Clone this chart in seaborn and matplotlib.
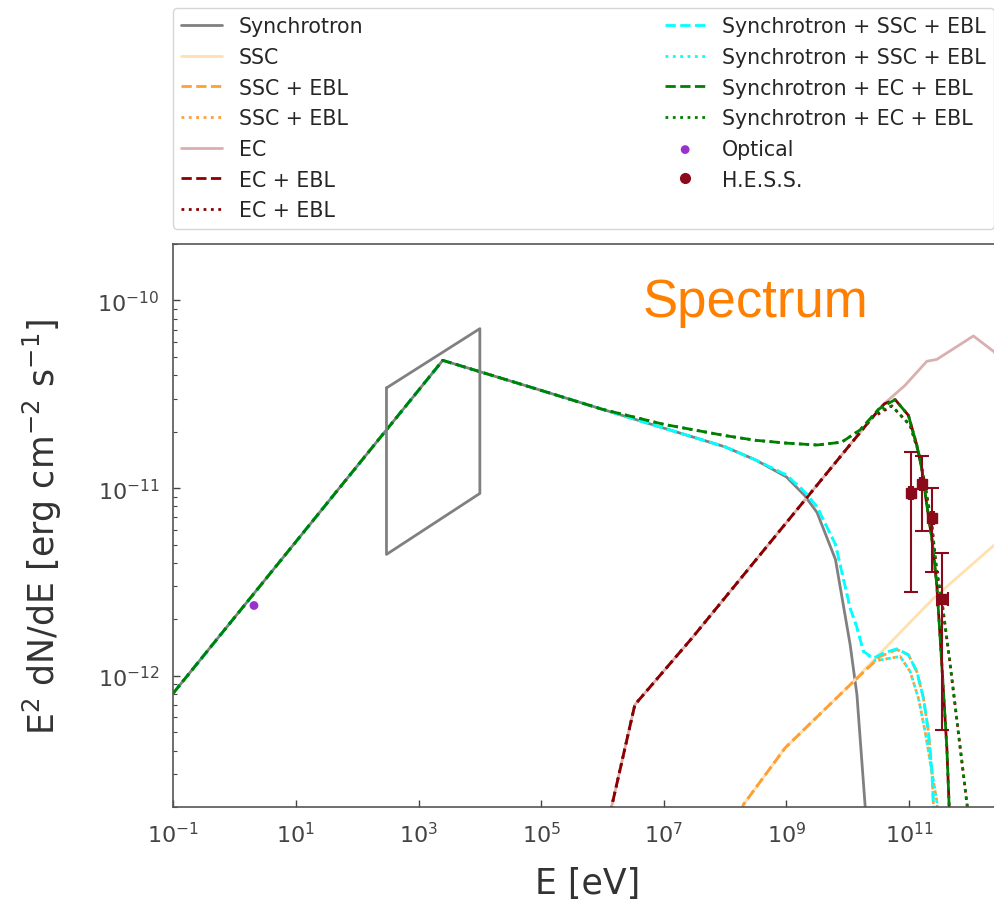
import numpy as np
import pandas as pd
import matplotlib
matplotlib.use("Agg")
import matplotlib.pyplot as plt
from matplotlib.lines import Line2D
import seaborn as sns

# ---------------------------------------------------------------
# SED model curves, stored as log10(E / eV) and log10(E^2 dN/dE)
# ---------------------------------------------------------------
sync_logE = [-1.0, 3.395, 4.82, 6.0, 7.0, 7.5, 8.0, 8.5, 9.0, 9.3, 9.5, 9.8, 10.04, 10.15, 10.284, 10.4]
sync_logF = [-12.092, -10.319, -10.461, -10.58, -10.68, -10.73, -10.78, -10.85, -10.94, -11.04, -11.13,
             -11.38, -11.835, -12.1, -12.693, -13.4]

ssc_logE = [8.2, 8.299, 8.979, 10.039, 10.557, 11.398, 12.39, 12.7]
ssc_logF = [-12.8, -12.686, -12.384, -12.048, -11.87, -11.587, -11.303, -11.22]

ssc_ebl_a_logE = [8.2, 8.299, 8.979, 10.039, 10.528, 10.801, 10.99, 11.127, 11.235, 11.316, 11.372, 11.398, 11.45]
ssc_ebl_a_logF = [-12.8, -12.686, -12.384, -12.048, -11.897, -11.86, -11.888, -11.977, -12.119, -12.296,
                  -12.509, -12.686, -13.0]

ssc_ebl_b_logE = [8.2, 8.299, 8.979, 10.039, 10.45, 10.691, 10.855, 11.018, 11.153, 11.262, 11.372, 11.453, 11.5]
ssc_ebl_b_logF = [-12.8, -12.686, -12.384, -12.048, -11.92, -11.906, -11.897, -11.977, -12.119, -12.296,
                  -12.509, -12.668, -12.9]

ec_logE = [6.0, 6.152, 6.528, 7.457, 10.557, 10.935, 11.29, 11.453, 12.05, 12.39, 12.7]
ec_logF = [-12.9, -12.693, -12.154, -11.8, -10.561, -10.452, -10.324, -10.314, -10.189, -10.274, -10.45]

ec_ebl_a_logE = [6.0, 6.152, 6.528, 7.457, 10.4, 10.6, 10.773, 10.99, 11.127, 11.208, 11.29, 11.372,
                 11.453, 11.535, 11.617, 11.654, 11.7]
ec_ebl_a_logF = [-12.9, -12.693, -12.154, -11.8, -10.624, -10.55, -10.528, -10.612, -10.771, -10.895,
                 -11.09, -11.268, -11.516, -11.941, -12.385, -12.693, -13.0]

ec_ebl_b_logE = [6.0, 6.152, 6.528, 7.457, 10.4, 10.72, 11.018, 11.153, 11.262, 11.372, 11.453, 11.535,
                 11.672, 11.835, 11.953, 12.0]
ec_ebl_b_logF = [-12.9, -12.693, -12.154, -11.8, -10.624, -10.562, -10.665, -10.806, -10.984, -11.197,
                 -11.445, -11.6, -11.941, -12.385, -12.704, -12.9]

sync_ssc_a_logE = [-1.0, 3.395, 4.82, 6.0, 7.0, 7.5, 8.0, 8.5, 9.0, 9.3, 9.5, 9.8, 10.04, 10.148, 10.256,
                   10.419, 10.582, 10.801, 10.99, 11.127, 11.235, 11.316, 11.372, 11.398, 11.45]
sync_ssc_a_logF = [-12.092, -10.319, -10.461, -10.58, -10.68, -10.73, -10.78, -10.85, -10.93, -11.02,
                   -11.1, -11.3, -11.64, -11.74, -11.87, -11.906, -11.879, -11.856, -11.888, -11.977,
                   -12.119, -12.296, -12.509, -12.686, -13.0]

sync_ssc_b_logE = [-1.0, 3.395, 4.82, 6.0, 7.0, 7.5, 8.0, 8.5, 9.0, 9.3, 9.5, 9.8, 10.04, 10.148, 10.256,
                   10.45, 10.691, 10.855, 11.018, 11.153, 11.262, 11.372, 11.453, 11.5]
sync_ssc_b_logF = [-12.092, -10.319, -10.461, -10.58, -10.68, -10.73, -10.78, -10.85, -10.93, -11.02,
                   -11.1, -11.3, -11.64, -11.74, -11.87, -11.92, -11.906, -11.897, -11.977, -12.119,
                   -12.296, -12.509, -12.668, -12.9]

sync_ec_a_logE = [-1.0, 3.395, 4.82, 6.0, 7.0, 7.5, 8.0, 8.5, 9.0, 9.5, 9.9, 10.2, 10.5, 10.773, 10.99,
                  11.127, 11.208, 11.29, 11.372, 11.453, 11.535, 11.617, 11.654, 11.7]
sync_ec_a_logF = [-12.092, -10.319, -10.461, -10.58, -10.66, -10.69, -10.72, -10.745, -10.76, -10.77,
                  -10.755, -10.69, -10.58, -10.528, -10.612, -10.771, -10.895, -11.09, -11.268, -11.516,
                  -11.941, -12.385, -12.693, -13.0]

sync_ec_b_logE = [-1.0, 3.395, 4.82, 6.0, 7.0, 7.5, 8.0, 8.5, 9.0, 9.5, 9.9, 10.2, 10.5, 10.72, 11.018,
                  11.153, 11.262, 11.372, 11.453, 11.535, 11.672, 11.835, 11.953, 12.0]
sync_ec_b_logF = [-12.092, -10.319, -10.461, -10.58, -10.66, -10.69, -10.72, -10.745, -10.76, -10.77,
                  -10.755, -10.69, -10.59, -10.562, -10.665, -10.806, -10.984, -11.197, -11.445, -11.6,
                  -11.941, -12.385, -12.704, -12.9]

# X-ray butterfly (0.3-10 keV), closed polygon
xray_logE = [2.477, 4.0, 4.0, 2.477, 2.477]
xray_logF = [-10.466, -10.15, -11.028, -11.353, -10.466]

# Optical point
opt_E = [2.07]
opt_F = [2.37e-12]

# H.E.S.S. points
hess_E = [1.08e11, 1.62e11, 2.38e11, 3.51e11]
hess_F = [9.38e-12, 1.05e-11, 6.9e-12, 2.56e-12]
hess_F_hi = [1.56e-11, 1.48e-11, 1.0e-11, 4.5e-12]
hess_F_lo = [2.78e-12, 5.9e-12, 3.59e-12, 5.16e-13]
hess_E_lo = [1.0e11, 1.52e11, 2.25e11, 2.84e11]
hess_E_hi = [1.17e11, 1.73e11, 2.52e11, 4.4e11]

# ---------------------------------------------------------------
sns.set_style("ticks")
plt.rcParams["font.family"] = ["DejaVu Sans"]
plt.rcParams["mathtext.fontset"] = "dejavusans"

fig = plt.figure(figsize=(9.94, 9.04), dpi=100)
W, H = 994.0, 904.0
ax_left, ax_right, ax_top, ax_bottom = 173.3, 1001.0, 245.0, 808.0
ax = fig.add_axes([ax_left / W, 1 - ax_bottom / H, (ax_right - ax_left) / W, (ax_bottom - ax_top) / H])
ax.set_xscale("log")
ax.set_yscale("log")


def curve(logE, logF, color, ls, label, lw=2.0):
    df = pd.DataFrame({"E": np.power(10.0, logE), "F": np.power(10.0, logF)})
    sns.lineplot(data=df, x="E", y="F", ax=ax, color=color, linestyle=ls, lw=lw,
                 estimator=None, sort=False, label=label)


c_sync = "#808080"
c_ssc = "#FFE0B0"
c_ssc_ebl = "#FFA033"
c_ec = "#DAAFAF"
c_ec_ebl = "#8B0000"
c_cyan = "#00FFFF"
c_green = "#008000"

curve(sync_logE, sync_logF, c_sync, "-", "Synchrotron")
curve(ssc_logE, ssc_logF, c_ssc, "-", "SSC")
curve(ssc_ebl_a_logE, ssc_ebl_a_logF, c_ssc_ebl, "--", "SSC + EBL")
curve(ssc_ebl_b_logE, ssc_ebl_b_logF, c_ssc_ebl, ":", "SSC + EBL")
curve(ec_logE, ec_logF, c_ec, "-", "EC")
curve(ec_ebl_a_logE, ec_ebl_a_logF, c_ec_ebl, "--", "EC + EBL")
curve(ec_ebl_b_logE, ec_ebl_b_logF, c_ec_ebl, ":", "EC + EBL")
curve(sync_ssc_a_logE, sync_ssc_a_logF, c_cyan, "--", "Synchrotron + SSC + EBL")
curve(sync_ssc_b_logE, sync_ssc_b_logF, c_cyan, ":", "Synchrotron + SSC + EBL")
curve(sync_ec_a_logE, sync_ec_a_logF, c_green, "--", "Synchrotron + EC + EBL")
curve(sync_ec_b_logE, sync_ec_b_logF, c_green, ":", "Synchrotron + EC + EBL")

# X-ray butterfly
ax.plot(np.power(10.0, xray_logE), np.power(10.0, xray_logF), color=c_sync, lw=2.0)

# Optical
sns.scatterplot(x=opt_E, y=opt_F, ax=ax, color="darkorchid", s=40, edgecolor="none",
                label="Optical", zorder=5)

# H.E.S.S.
hess_E_arr = np.array(hess_E)
hess_F_arr = np.array(hess_F)
yerr = [hess_F_arr - np.array(hess_F_lo), np.array(hess_F_hi) - hess_F_arr]
xerr = [hess_E_arr - np.array(hess_E_lo), np.array(hess_E_hi) - hess_E_arr]
ax.errorbar(hess_E_arr, hess_F_arr, yerr=yerr, xerr=xerr, fmt="s", color="#8B0A1A",
            ms=7, elinewidth=1.5, capsize=5, capthick=1.5, zorder=6)

ax.set_xlim(0.1, 10 ** 12.5)
ax.set_ylim(2e-13, 2e-10)

ax.set_xlabel("E [eV]", fontsize=25, color="#333333", labelpad=14.5)
ax.set_ylabel(r"E$^2$ dN/dE [erg cm$^{-2}$ s$^{-1}$]", fontsize=25, color="#333333", labelpad=24)

ax.tick_params(which="both", direction="in", colors="#444444", labelsize=16)
ax.tick_params(which="major", length=5, width=1)
ax.tick_params(which="minor", length=3, width=0.8)
ax.tick_params(axis="x", pad=10)
ax.tick_params(axis="y", pad=10)
for s in ax.spines.values():
    s.set_color("#555555")
    s.set_linewidth(1.2)

# Legend above the axes, two columns
handles, labels = ax.get_legend_handles_labels()
hess_handle = Line2D([], [], ls="none", marker="o", ms=7, color="#8B0A1A")
handles.append(hess_handle)
labels.append("H.E.S.S.")
leg = ax.legend(handles, labels, ncol=2, mode="expand", loc="upper left",
                bbox_to_anchor=(173 / W, 1 - 9 / H, (994 - 173) / W, 0.0),
                bbox_transform=fig.transFigure, fontsize=14.8, labelspacing=0.52,
                handlelength=2.0, borderaxespad=0.0, frameon=True)
leg.get_frame().set_edgecolor("#cccccc")
for t in leg.get_texts():
    t.set_color("#262626")

fig.text(643 / W, 1 - 317 / H, "Spectrum", color="#FF8000", fontsize=38,
         family=["Liberation Sans", "DejaVu Sans"], va="baseline", ha="left")

fig.savefig("out.png", dpi=100)
